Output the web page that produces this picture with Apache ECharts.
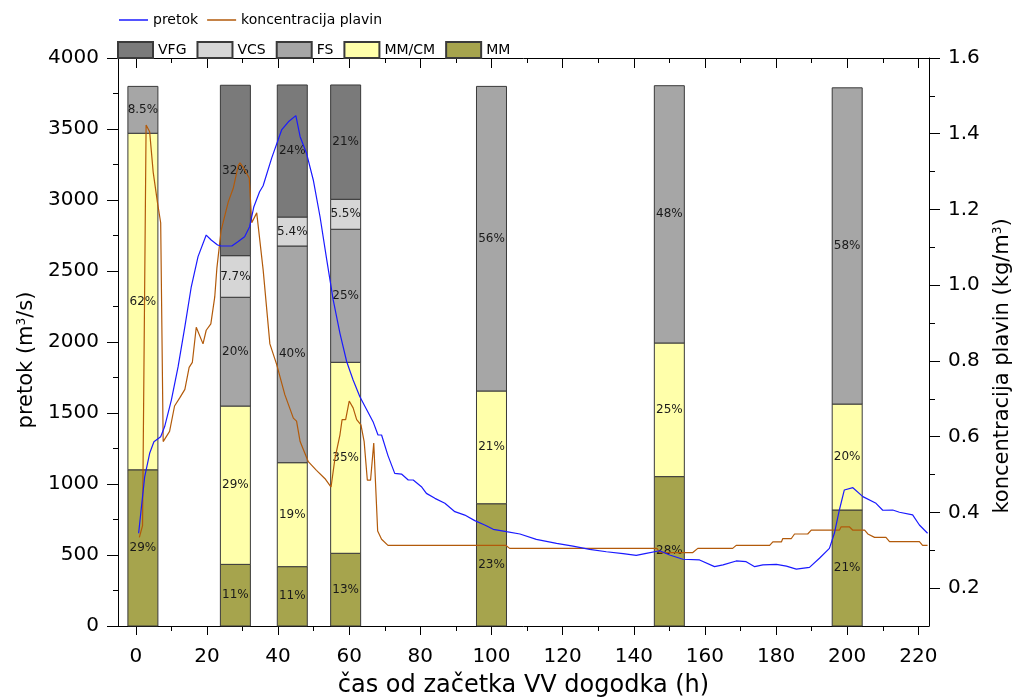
<!DOCTYPE html>
<html>
<head>
<meta charset="utf-8">
<script src="https://cdn.jsdelivr.net/npm/echarts@6/dist/echarts.min.js"></script>
<style>html,body{margin:0;padding:0;background:#fff;}#chart{width:1014px;height:700px;}</style>
</head>
<body>
<div id="chart"></div>
<script>
// ---- Data ----
const barHours = [2, 28, 44, 59, 100, 150, 200];
const mmVals   = [1100, 434, 418, 512, 861, 1052, 817];
const mmcmVals = [2370, 1115, 732, 1345, 794, 941, 746];
const fsVals   = [330, 766, 1526, 937, 2145, 1812, 2227];
const vcsVals  = [null, 293, 204, 211, null, null, null];
const vfgVals  = [null, 1200, 930, 805, null, null, null];
const mmPct   = ['29%', '11%', '11%', '13%', '23%', '28%', '21%'];
const mmcmPct = ['62%', '29%', '19%', '35%', '21%', '25%', '20%'];
const fsPct   = ['8.5%', '20%', '40%', '25%', '56%', '48%', '58%'];
const vcsPct  = ['', '7.7%', '5.4%', '5.5%', '', '', ''];
const vfgPct  = ['', '32%', '24%', '21%', '', '', ''];

const pretokHours = [0.8,2.5,3.9,5.1,7.0,8.1,10.0,11.9,13.8,15.6,17.5,19.8,21.2,23.0,24.0,27.0,28.7,30.6,32.0,33.2,34.8,35.8,38.2,41.0,42.9,45.0,46.2,48.0,49.9,51.8,53.7,55.5,57.4,59.3,61.1,63.0,66.7,68.1,69.1,70.9,72.8,74.7,76.6,78.0,80.3,81.7,84.1,86.9,89.7,92.5,95.3,98.1,100.5,104.2,108.0,112.6,118.3,122.9,127.6,132.3,137.0,140.7,143.5,147.3,150.1,153.8,158.5,162.7,165.1,168.8,171.6,174.0,176.3,180.1,182.9,185.7,189.4,192.2,195.0,196.4,197.8,199.2,201.6,204.4,208.1,210.0,212.8,214.7,218.4,220.3,222.6];
const pretokVals = [653,1051,1216,1298,1333,1403,1591,1826,2108,2389,2601,2753,2718,2683,2676,2676,2706,2741,2812,2953,3058,3100,3295,3493,3551,3594,3446,3329,3141,2882,2577,2296,2061,1861,1732,1615,1439,1345,1345,1200,1075,1070,1028,1028,981,934,899,864,805,781,742,711,681,664,648,610,582,563,540,523,510,497,512,530,500,470,465,418,430,458,453,418,430,434,422,401,413,477,547,653,817,958,974,911,864,815,817,801,782,711,653];

const koncHours = [1.0,1.9,2.9,3.9,4.9,6.1,7.0,7.7,8.1,9.5,10.9,12.4,13.8,15.0,15.9,17.0,18.9,19.8,21.1,22.2,22.8,24.0,26.0,27.4,28.8,29.3,30.2,31.9,32.6,34.0,35.8,37.7,39.6,41.9,44.3,45.2,46.2,48.5,50.8,53.2,54.9,56.0,57.4,58.0,59.0,60.0,61.1,62.1,63.3,64.2,65.1,66.0,66.9,68.0,69.1,70.9,104.0,105.1,146.5,147.3,156.6,158.0,167.8,168.8,178.2,179.1,181.5,181.9,184.3,185.2,188.9,189.9,197.8,198.3,200.6,201.6,204.9,205.8,207.7,210.9,211.9,220.3,221.2,222.6];
const koncVals = [0.334,0.365,1.423,1.405,1.298,1.218,1.165,0.587,0.583,0.614,0.681,0.703,0.725,0.783,0.796,0.889,0.845,0.881,0.898,0.969,1.045,1.145,1.22,1.256,1.316,1.323,1.311,1.283,1.165,1.191,1.041,0.845,0.791,0.711,0.649,0.641,0.587,0.534,0.511,0.489,0.467,0.543,0.605,0.645,0.645,0.694,0.676,0.645,0.631,0.587,0.485,0.485,0.583,0.351,0.329,0.313,0.313,0.305,0.305,0.294,0.294,0.305,0.305,0.313,0.313,0.322,0.322,0.331,0.331,0.343,0.343,0.353,0.353,0.362,0.362,0.353,0.353,0.343,0.334,0.334,0.323,0.323,0.313,0.313];

const xMajorTicks = [0, 20, 40, 60, 80, 100, 120, 140, 160, 180, 200, 220];
const xMinorTicks = [10, 30, 50, 70, 90, 110, 130, 150, 170, 190, 210];
const rightMajorTicks = [0.2, 0.4, 0.6, 0.8, 1.0, 1.2, 1.4, 1.6];
const rightMinorTicks = [0.3, 0.5, 0.7, 0.9, 1.1, 1.3, 1.5];

// ---- Chart ----
const FONT = '"DejaVu Sans", sans-serif';
const chart = echarts.init(document.getElementById('chart'), null, {renderer: 'canvas'});

// stacking order bottom -> top
const categories = [
  {name: 'MM', vals: mmVals, pcts: mmPct, color: '#a6a44d'},
  {name: 'MM/CM', vals: mmcmVals, pcts: mmcmPct, color: '#ffffaa'},
  {name: 'FS', vals: fsVals, pcts: fsPct, color: '#a6a6a6'},
  {name: 'VCS', vals: vcsVals, pcts: vcsPct, color: '#d6d6d6'},
  {name: 'VFG', vals: vfgVals, pcts: vfgPct, color: '#7a7a7a'}
];
const runningBase = barHours.map(() => 0);
const barSeries = categories.map(cat => {
  const data = [];
  barHours.forEach((h, i) => {
    const v = cat.vals[i];
    if (v == null) return;
    data.push([h, runningBase[i], runningBase[i] + v, i]);
    runningBase[i] += v;
  });
  return {
    name: cat.name, type: 'custom', xAxisIndex: 0, yAxisIndex: 0, z: 2,
    itemStyle: {color: cat.color, borderColor: '#3a3a3a', borderWidth: 1},
    encode: {x: 0, y: [1, 2]},
    data: data,
    renderItem: (params, api) => {
      const x = api.value(0);
      const pBottom = api.coord([x, api.value(1)]);
      const pTop = api.coord([x, api.value(2)]);
      const halfW = 15;
      return {
        type: 'rect',
        shape: {x: pBottom[0] - halfW, y: pTop[1], width: halfW * 2, height: pBottom[1] - pTop[1]},
        style: {fill: cat.color, stroke: '#3a3a3a', lineWidth: 1},
        textContent: {style: {text: cat.pcts[api.value(3)], fontSize: 12, fontFamily: FONT, fill: '#1a1a1a'}},
        textConfig: {position: 'inside'}
      };
    }
  };
});

const axisTextStyle = {fontSize: 20, fontFamily: FONT, color: '#000'};
const titleStyle = {fontSize: 21, fontFamily: FONT, color: '#000'};
const supRich = {sup: {fontSize: 12, fontFamily: FONT, color: '#000', verticalAlign: 'top', lineHeight: 12}};

const option = {
  animation: false,
  backgroundColor: '#fff',
  grid: {left: 118, right: 85, top: 58, bottom: 74, containLabel: false, outerBoundsMode: 'none'},
  legend: [
    {
      data: [{name: 'pretok', icon: 'rect'}, {name: 'koncentracija plavin', icon: 'rect'}],
      left: 114, top: 8, itemWidth: 29, itemHeight: 1.5, itemGap: 9,
      textStyle: {fontSize: 14, fontFamily: FONT, color: '#000'}
    },
    {
      data: ['VFG', 'VCS', 'FS', 'MM/CM', 'MM'],
      left: 112, top: 36, itemWidth: 35, itemHeight: 16, itemGap: 10, icon: 'rect',
      textStyle: {fontSize: 14, fontFamily: FONT, color: '#000'}
    }
  ],
  xAxis: [
    {
      type: 'value', position: 'bottom', min: -5, max: 223,
      name: 'čas od začetka VV dogodka (h)', nameLocation: 'middle', nameGap: 48,
      nameTextStyle: {fontSize: 24, fontFamily: FONT, color: '#000'},
      axisLine: {show: true, onZero: false, lineStyle: {color: '#000', width: 1}},
      axisTick: {show: true, inside: false, length: 9, customValues: xMajorTicks, lineStyle: {color: '#000'}},
      axisLabel: {show: true, margin: 21, customValues: xMajorTicks, ...axisTextStyle},
      splitLine: {show: false}
    },
    {
      type: 'value', position: 'bottom', min: -5, max: 223,
      axisLine: {show: false, onZero: false},
      axisTick: {show: true, inside: false, length: 5, customValues: xMinorTicks, lineStyle: {color: '#000'}},
      axisLabel: {show: false}, splitLine: {show: false}
    },
    {
      type: 'value', position: 'top', min: -5, max: 223,
      axisLine: {show: true, onZero: false, lineStyle: {color: '#000', width: 1}},
      axisTick: {show: true, inside: true, length: 10, customValues: xMajorTicks, lineStyle: {color: '#000'}},
      axisLabel: {show: false}, splitLine: {show: false}
    },
    {
      type: 'value', position: 'top', min: -5, max: 223,
      axisLine: {show: false, onZero: false},
      axisTick: {show: true, inside: true, length: 5, customValues: xMinorTicks, lineStyle: {color: '#000'}},
      axisLabel: {show: false}, splitLine: {show: false}
    }
  ],
  yAxis: [
    {
      type: 'value', position: 'left', min: 0, max: 4000, interval: 500,
      name: 'pretok (m{sup|3}/s)', nameLocation: 'middle', nameGap: 80, nameRotate: 90,
      nameTextStyle: {...titleStyle, padding: [0, 36, 0, 0], rich: supRich},
      axisLine: {show: true, onZero: false, lineStyle: {color: '#000', width: 1}},
      axisTick: {show: true, inside: false, length: 11, lineStyle: {color: '#000'}},
      minorTick: {show: true, splitNumber: 2, length: 5, lineStyle: {color: '#000'}},
      axisLabel: {show: true, margin: 19, formatter: v => String(v), ...axisTextStyle},
      splitLine: {show: false}
    },
    {
      type: 'value', position: 'right', min: 0.1, max: 1.6,
      name: 'koncentracija plavin (kg/m{sup|3})', nameLocation: 'middle', nameGap: 63, nameRotate: 90,
      nameTextStyle: {...titleStyle, padding: [0, 48, 0, 0], rich: supRich},
      axisLine: {show: true, onZero: false, lineStyle: {color: '#000', width: 1}},
      axisTick: {show: true, inside: false, length: 11, customValues: rightMajorTicks, lineStyle: {color: '#000'}},
      axisLabel: {show: true, margin: 19, customValues: rightMajorTicks, formatter: v => v.toFixed(1), ...axisTextStyle},
      splitLine: {show: false}
    },
    {
      type: 'value', position: 'right', min: 0.1, max: 1.6,
      axisLine: {show: false, onZero: false},
      axisTick: {show: true, inside: false, length: 6, customValues: rightMinorTicks, lineStyle: {color: '#000'}},
      axisLabel: {show: false}, splitLine: {show: false}
    }
  ],
  series: [
    ...barSeries,
    {
      name: 'pretok', type: 'line', xAxisIndex: 0, yAxisIndex: 0, z: 5,
      symbol: 'none', smooth: false,
      data: pretokHours.map((h, i) => [h, pretokVals[i]]),
      lineStyle: {color: '#1a1aff', width: 1.2}, itemStyle: {color: '#1a1aff'},
      emphasis: {disabled: true}
    },
    {
      name: 'koncentracija plavin', type: 'line', xAxisIndex: 0, yAxisIndex: 1, z: 4,
      symbol: 'none', smooth: false,
      data: koncHours.map((h, i) => [h, koncVals[i]]),
      lineStyle: {color: '#b25a0a', width: 1.2}, itemStyle: {color: '#b25a0a'},
      emphasis: {disabled: true}
    }
  ]
};
chart.setOption(option);
</script>
</body>
</html>
